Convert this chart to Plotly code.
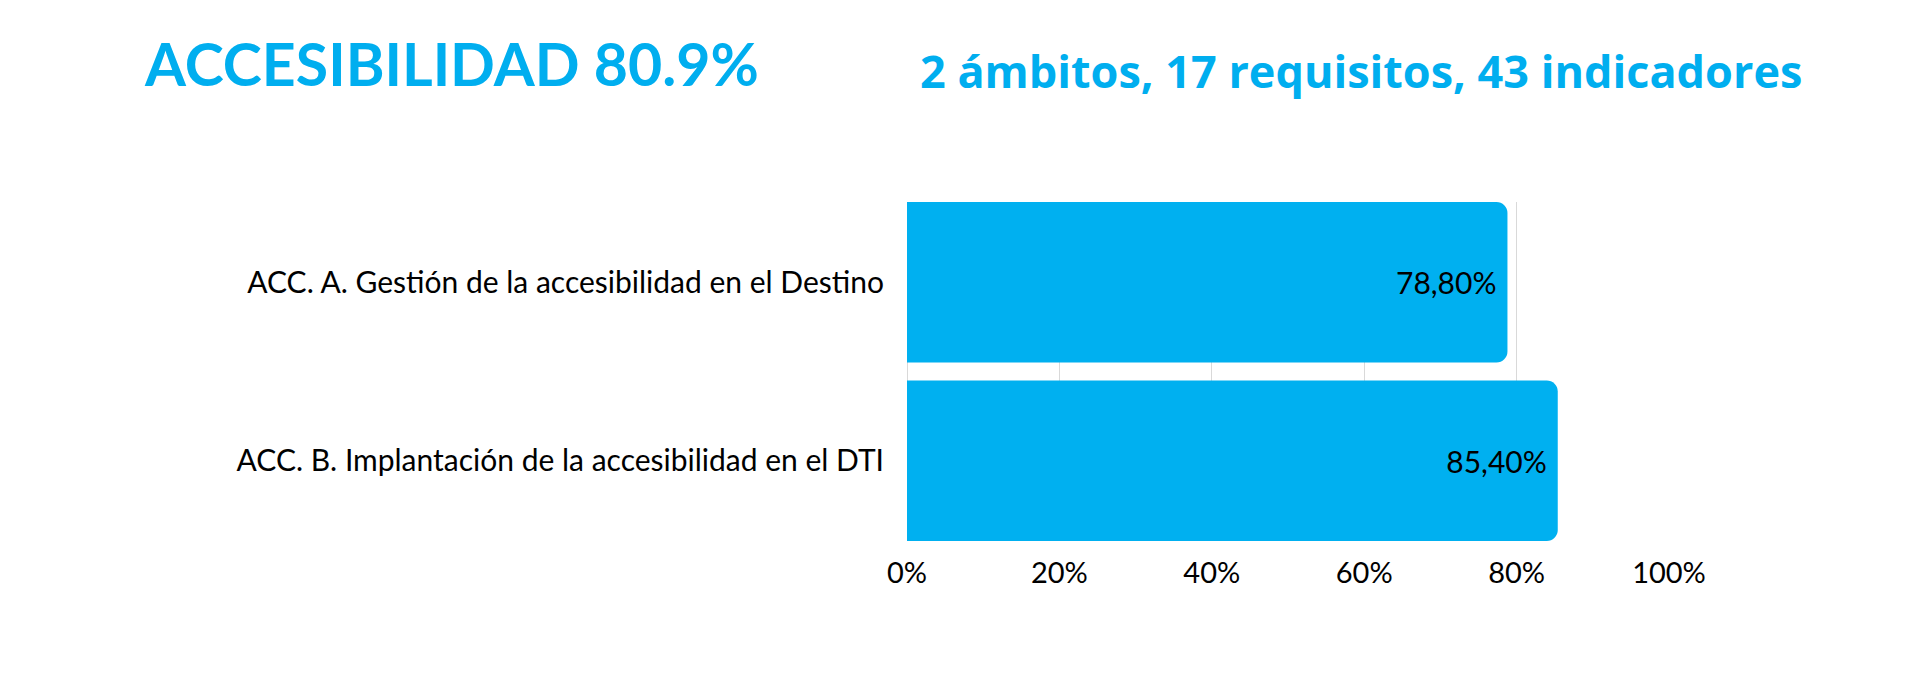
import plotly.graph_objects as go

# ---- data ----
categories = [
    "ACC. A. Gestión de la accesibilidad en el Destino",
    "ACC. B. Implantación de la accesibilidad en el DTI",
]
values = [0.788, 0.854]
tick_vals = [0, 0.2, 0.4, 0.6, 0.8, 1.0]
tick_text = ["0%", "20%", "40%", "60%", "80%", "100%"]
title_text = "ACCESIBILIDAD 80.9%"
subtitle_text = "2 ámbitos, 17 requisitos, 43 indicadores"

# ---- layout geometry (pixels, figure coordinates) ----
W, H = 1920, 675
L, R, T, B = 899, 259, 194, 142
PW, PH = W - L - R, H - T - B
GAP = 0.1008
BLUE = "#00B0F0"
BG = "#FFFFFF"


def px_x(p):
    return (p - L) / PW


def px_y(p):
    return (H - B - p) / PH


labels = [("%.2f" % (v * 100)).replace(".", ",") + "%" for v in values]

fig = go.Figure(
    go.Bar(
        x=values,
        y=categories,
        orientation="h",
        marker=dict(color=BLUE, line=dict(width=0), cornerradius=11),
        text=labels,
        textposition="inside",
        insidetextanchor="end",
        textangle=0,
        textfont=dict(family="Lato", size=30, color="#000000"),
        cliponaxis=False,
        hoverinfo="skip",
    )
)

half = (1 - GAP) / 2
fig.update_layout(
    width=W,
    height=H,
    margin=dict(l=L, r=R, t=T, b=B, pad=0),
    paper_bgcolor=BG,
    plot_bgcolor=BG,
    bargap=GAP,
    showlegend=False,
    separators=",.",
    font=dict(family="Lato", color="#000000"),
    xaxis=dict(
        range=[0, 1],
        tickvals=tick_vals,
        ticktext=tick_text,
        showgrid=True,
        gridcolor="#D9D9D9",
        gridwidth=1,
        zeroline=True,
        zerolinecolor="#D9D9D9",
        zerolinewidth=1,
        showline=False,
        ticks="",
        ticklabelstandoff=12,
        tickfont=dict(family="Lato", size=29, color="#000000"),
        fixedrange=True,
    ),
    yaxis=dict(
        type="category",
        categoryorder="array",
        categoryarray=categories,
        range=[1 + half, -half],
        showgrid=False,
        zeroline=False,
        showline=False,
        ticks="",
        ticklabelstandoff=22,
        tickfont=dict(family="Lato", size=30, color="#000000"),
        fixedrange=True,
    ),
    annotations=[
        dict(
            text=title_text,
            xref="paper", yref="paper",
            x=px_x(134), y=px_y(55),
            xanchor="left", yanchor="middle",
            showarrow=False,
            font=dict(family="Lato", size=59, color="#00AEEF", weight="bold"),
        ),
        dict(
            text=subtitle_text,
            xref="paper", yref="paper",
            x=px_x(910), y=px_y(62),
            xanchor="left", yanchor="middle",
            showarrow=False,
            font=dict(family="Open Sans", size=45, color="#00AEEF", weight="bold"),
        ),
    ],
)

fig.write_html("out.html", config={"displayModeBar": False})
